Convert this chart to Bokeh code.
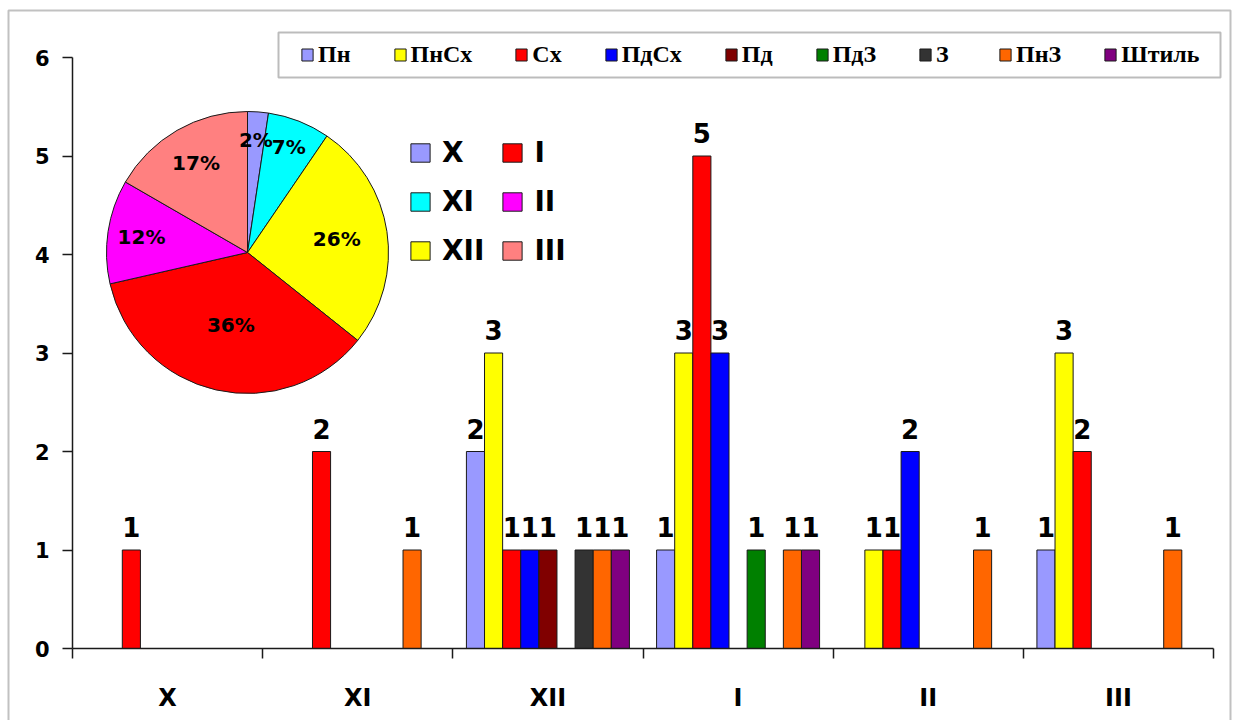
import numpy as np
from bokeh.plotting import figure
from bokeh.models import (ColumnDataSource, FixedTicker, Legend, LegendItem,
                          BoxAnnotation, CustomJSTickFormatter)
from bokeh.core.properties import value
from bokeh.embed import file_html
from bokeh.resources import INLINE

# Months of the season and wind directions
months = ["X", "XI", "XII", "I", "II", "III"]
directions = ["Пн", "ПнСх", "Сх", "ПдСх", "Пд", "ПдЗ", "З", "ПнЗ", "Штиль"]

# Number of cases per direction, one value per month (X .. III)
pn   = [0, 0, 2, 1, 0, 1]
pnsh = [0, 0, 3, 3, 1, 3]
sh   = [1, 2, 1, 5, 1, 2]
pdsh = [0, 0, 1, 3, 2, 0]
pd_  = [0, 0, 1, 0, 0, 0]
pdz  = [0, 0, 0, 1, 0, 0]
zah  = [0, 0, 1, 0, 0, 0]
pnz  = [0, 1, 1, 1, 1, 1]
calm = [0, 0, 1, 1, 0, 0]
series = [pn, pnsh, sh, pdsh, pd_, pdz, zah, pnz, calm]

dir_colors = ["#9999FF", "#FFFF00", "#FF0000", "#0000FF", "#800000",
              "#008000", "#333333", "#FF6600", "#800080"]
month_colors = ["#9999FF", "#00FFFF", "#FFFF00", "#FF0000", "#FF00FF", "#FF8080"]

W, H = 1235, 720
YMAX = 6
NX = len(months)
EDGE = "#1a1a1a"
SANS = "DejaVu Sans"

# pixel placement of the plot area: value axis from 0 (bottom) to YMAX (top)
AX_LEFT, AX_RIGHT, AX_BOTTOM, AX_TOP = 72, 1213, 648, 57
ppx = (AX_RIGHT - AX_LEFT) / NX
ppy = (AX_BOTTOM - AX_TOP) / YMAX

# the frame covers the whole canvas; axes sit at fixed data positions
p = figure(width=W, height=H,
           x_range=(-AX_LEFT / ppx, NX + (W - AX_RIGHT) / ppx),
           y_range=(-(H - AX_BOTTOM) / ppy, YMAX + AX_TOP / ppy),
           output_backend="svg", toolbar_location=None,
           min_border_left=0, min_border_right=0,
           min_border_top=0, min_border_bottom=0)
p.outline_line_color = None
p.grid.visible = False
p.background_fill_color = "white"
p.border_fill_color = "white"

# chart border and the box behind the direction legend
frame_box = BoxAnnotation(left=8, right=1230, top=10, bottom=H + 10,
                          left_units="canvas", right_units="canvas",
                          top_units="canvas", bottom_units="canvas",
                          fill_alpha=0, line_color="#333333", line_width=2)
p.add_layout(frame_box)
legend_box = BoxAnnotation(left=278, right=1220, top=32, bottom=77,
                           left_units="canvas", right_units="canvas",
                           top_units="canvas", bottom_units="canvas",
                           fill_color="white", fill_alpha=1,
                           line_color="#222222", line_width=2)
p.add_layout(legend_box)

# clustered bars: 9 directions per month, gap of 1.5 bar widths
n = len(directions)
bw = 1.0 / (n + 1.5)
centers = np.arange(NX) + 0.5
bar_renderers = []
for i, (vals, col) in enumerate(zip(series, dir_colors)):
    vals = np.array(vals)
    keep = vals > 0
    xs = centers[keep] + (i - (n - 1) / 2) * bw
    src = ColumnDataSource(dict(x=xs, top=vals[keep],
                                label=[str(v) for v in vals[keep]]))
    r = p.vbar(x="x", top="top", bottom=0, width=bw, source=src,
               fill_color=col, line_color=EDGE, line_width=1)
    p.text(x="x", y="top", text="label", source=src, text_align="center",
           text_baseline="alphabetic", y_offset=-23,
           text_font=value(SANS), text_font_style="bold",
           text_font_size="26px", text_color="black")
    bar_renderers.append(r)

# pie of monthly totals, starting at 12 o'clock and running clockwise
totals = np.array(series).sum(axis=0)
frac = totals / totals.sum()
cum = np.concatenate([[0.0], np.cumsum(frac)])
start = np.pi / 2 - 2 * np.pi * cum[:-1]
end = np.pi / 2 - 2 * np.pi * cum[1:]
mid = np.pi / 2 - 2 * np.pi * (cum[:-1] + frac / 2)

PIE_PX = (247, 252)
PIE_R = 141
cx = (PIE_PX[0] - AX_LEFT) / ppx
cy = (AX_BOTTOM - PIE_PX[1]) / ppy

pie_src = ColumnDataSource(dict(x=[cx] * NX, y=[cy] * NX,
                                start=start, end=end, color=month_colors))
wr = p.wedge(x="x", y="y", radius=PIE_R, radius_units="screen",
             start_angle="start", end_angle="end", direction="clock",
             fill_color="color", line_color=EDGE, line_width=1, source=pie_src)

label_r = np.array([0.80, 0.80, 0.64, 0.53, 0.76, 0.73]) * PIE_R
pct_src = ColumnDataSource(dict(
    x=cx + label_r * np.cos(mid) / ppx,
    y=cy + label_r * np.sin(mid) / ppy,
    text=[f"{round(100 * f)}%" for f in frac]))
p.text(x="x", y="y", text="text", source=pct_src, text_align="center",
       text_baseline="middle", text_font=value(SANS), text_font_style="bold",
       text_font_size="20px", text_color="black")

# axes
p.yaxis.fixed_location = 0
p.yaxis.bounds = (0, YMAX)
p.yaxis.ticker = FixedTicker(ticks=list(range(YMAX + 1)), minor_ticks=[])
p.yaxis.major_tick_out = 10
p.yaxis.major_tick_in = 0
p.yaxis.major_label_standoff = 13
p.yaxis.major_label_text_font = SANS
p.yaxis.major_label_text_font_style = "bold"
p.yaxis.major_label_text_font_size = "21px"
p.yaxis.major_label_text_color = "black"

p.xaxis.fixed_location = 0
p.xaxis.bounds = (0, NX)
p.xaxis.ticker = FixedTicker(ticks=list(centers), minor_ticks=list(range(NX + 1)))
p.xaxis.formatter = CustomJSTickFormatter(args=dict(names=months),
                                          code="return names[Math.floor(tick)];")
p.xaxis.major_tick_out = 0
p.xaxis.major_tick_in = 0
p.xaxis.minor_tick_out = 10
p.xaxis.minor_tick_in = 0
p.xaxis.major_label_standoff = 25
p.xaxis.major_label_text_font = SANS
p.xaxis.major_label_text_font_style = "bold"
p.xaxis.major_label_text_font_size = "24px"
p.xaxis.major_label_text_color = "black"

for ax in (p.xaxis, p.yaxis):
    ax.axis_line_color = EDGE
    ax.axis_line_width = 1.5
    ax.major_tick_line_color = EDGE
    ax.major_tick_line_width = 1.5
    ax.minor_tick_line_color = EDGE
    ax.minor_tick_line_width = 1.5
p.yaxis.minor_tick_line_color = None

# direction legend along the top
dir_legend = Legend(
    items=[LegendItem(label=d, renderers=[r]) for d, r in zip(directions, bar_renderers)],
    orientation="horizontal", location=(300, H - 68),
    padding=0, margin=0, spacing=42, glyph_width=14, glyph_height=15,
    label_standoff=4, label_height=24,
    label_text_font="Liberation Serif", label_text_font_style="bold",
    label_text_font_size="24px", label_text_color="black",
    border_line_color=None, background_fill_alpha=0)
p.add_layout(dir_legend)

# month legend next to the pie
month_legend = Legend(
    items=[LegendItem(label=m, renderers=[wr], index=i) for i, m in enumerate(months)],
    orientation="vertical", nrows=3, location=(408, H - 267),
    padding=0, margin=0, spacing=16, glyph_width=24, glyph_height=23,
    label_standoff=10,
    label_text_font=SANS, label_text_font_style="bold",
    label_text_font_size="28px", label_text_color="black",
    border_line_color=None, background_fill_alpha=0)
p.add_layout(month_legend)

open("out.html", "w").write(file_html(p, INLINE))
